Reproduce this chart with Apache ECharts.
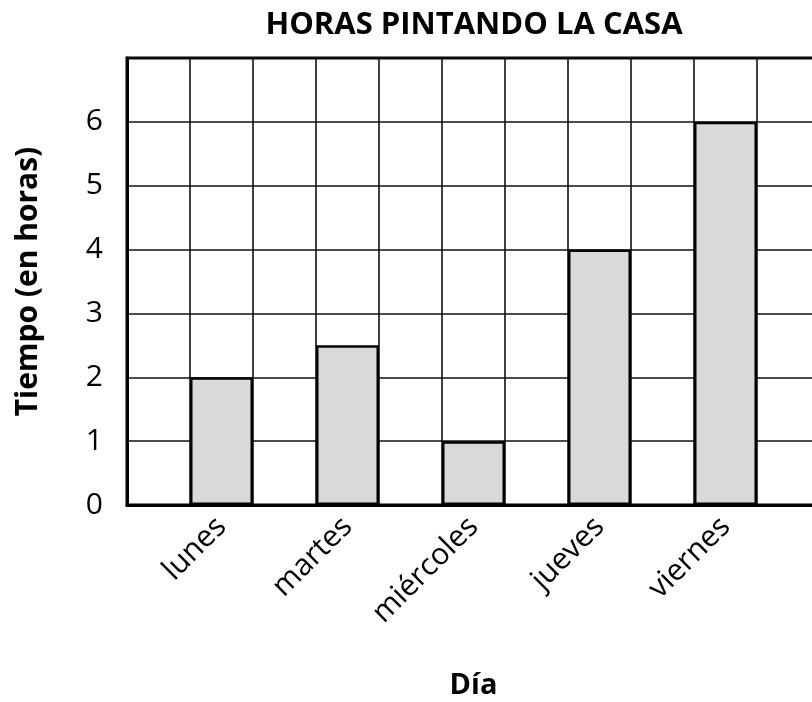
<!DOCTYPE html>
<html>
<head>
<meta charset="utf-8">
<script src="https://cdn.jsdelivr.net/npm/echarts@6/dist/echarts.min.js"></script>
<style>html,body{margin:0;padding:0;background:#fff}#c{width:812px;height:702px}</style>
</head>
<body>
<div id="c"></div>
<script>
var categories = ['', 'lunes', '', 'martes', '', 'miércoles', '', 'jueves', '', 'viernes', ''];
var hours = [null, 2, null, 2.5, null, 1, null, 4, null, 6, null];
var yTicks = ['0', '1', '2', '3', '4', '5', '6', ''];

var font = '"Open Sans", "Noto Sans", sans-serif';
var chart = echarts.init(document.getElementById('c'), null, {renderer: 'canvas'});
chart.setOption({
  animation: false,
  title: {
    text: 'HORAS PINTANDO LA CASA',
    left: 469, top: 5, textAlign: 'center',
    textStyle: {fontFamily: font, fontWeight: 'bold', fontSize: 31, color: '#000'}
  },
  grid: {
    left: 127, top: 58, right: -8, bottom: 197,
    outerBoundsMode: 'none',
    containLabel: false,
    show: true, borderColor: '#000', borderWidth: 3, backgroundColor: 'transparent'
  },
  xAxis: {
    type: 'category',
    data: categories,
    boundaryGap: true,
    name: 'Día',
    nameLocation: 'middle',
    nameGap: 166,
    nameTextStyle: {fontFamily: font, fontWeight: 'bold', fontSize: 29, color: '#000'},
    axisLine: {show: true, lineStyle: {color: '#000', width: 3}},
    axisTick: {show: false},
    splitLine: {show: true, interval: 0, lineStyle: {color: '#111', width: 1.6}},
    axisLabel: {
      interval: 0, rotate: 45, margin: 17,
      fontFamily: font, fontSize: 30, color: '#000'
    }
  },
  yAxis: {
    type: 'value',
    min: 0, max: 7, interval: 1,
    name: 'Tiempo (en horas)',
    nameLocation: 'middle',
    nameGap: 84,
    nameRotate: 90,
    nameTextStyle: {fontFamily: font, fontWeight: 'bold', fontSize: 30, color: '#000'},
    axisLine: {show: true, lineStyle: {color: '#000', width: 3}},
    axisTick: {show: false},
    splitLine: {show: true, lineStyle: {color: '#111', width: 1.6}},
    axisLabel: {
      margin: 24, fontFamily: font, fontSize: 30, color: '#000',
      formatter: function (v) { return yTicks[v]; }
    }
  },
  series: [{
    type: 'bar',
    data: hours,
    barWidth: '100%',
    itemStyle: {color: '#d9d9d9', borderColor: '#000', borderWidth: 2.5}
  }]
});
</script>
</body>
</html>
